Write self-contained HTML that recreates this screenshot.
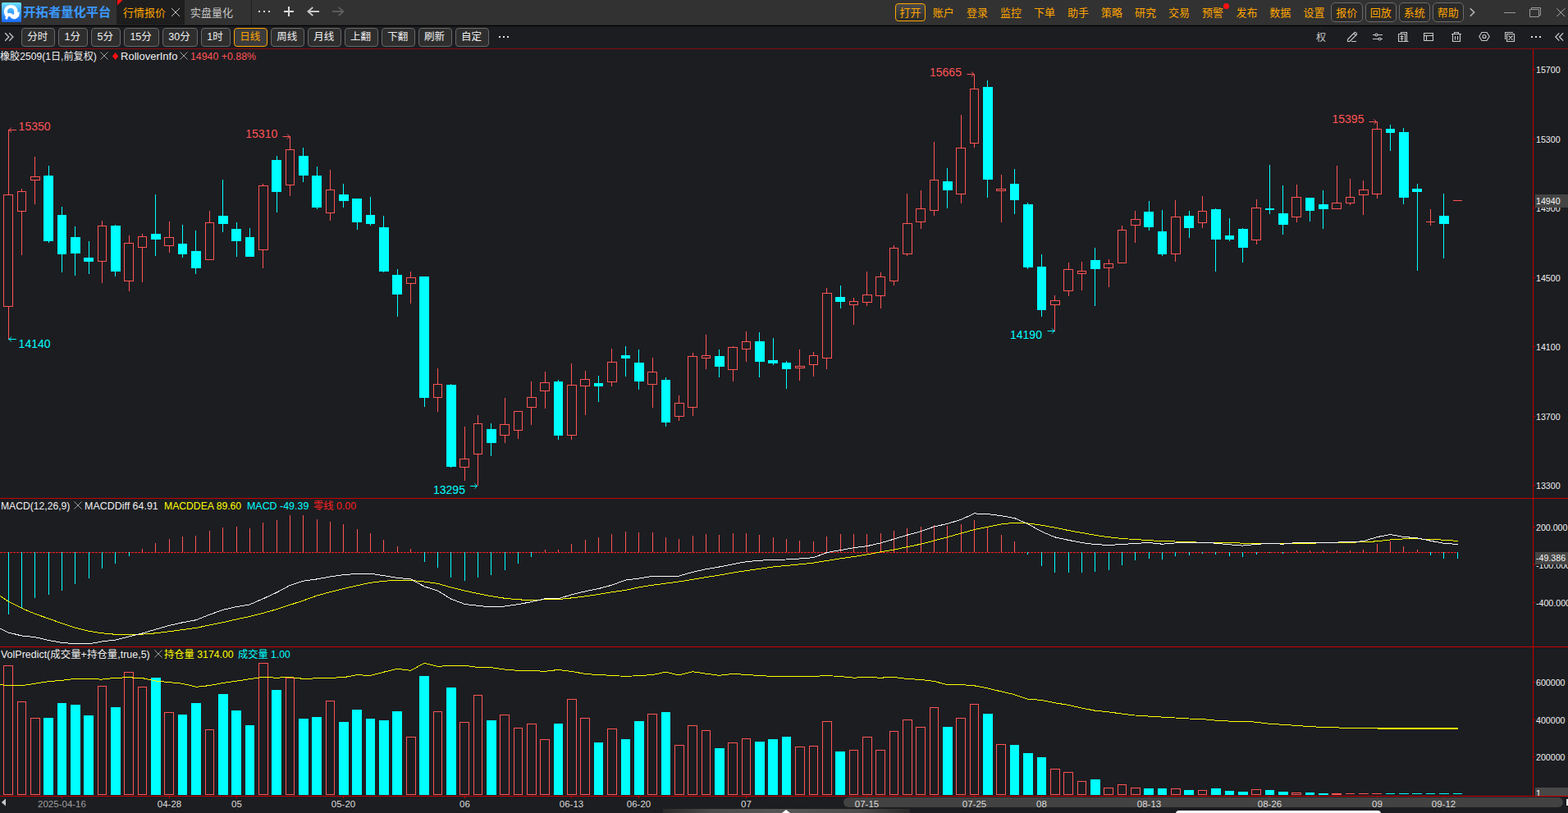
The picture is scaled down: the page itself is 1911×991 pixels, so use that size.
<!DOCTYPE html>
<html><head><meta charset="utf-8"><title>chart</title>
<style>
html,body{margin:0;padding:0;background:#1c1d21}
body{width:1911px;height:991px;position:relative;overflow:hidden;font-family:"Liberation Sans","Noto Sans CJK SC",sans-serif}
body>div,.a{position:absolute}
.t{white-space:nowrap}
.x{vertical-align:-1px}
</style></head><body>
<div style="left:0px;top:0px;width:1911px;height:30px;background:#323232"></div><div style="left:0px;top:30px;width:1911px;height:1px;background:#262626"></div><div style="left:0px;top:31px;width:1911px;height:1px;background:#000"></div><div style="left:142px;top:0px;width:83px;height:30px;background:#1e1e1e"></div><svg class="a" style="left:142.700px;top:0" width="8" height="8"><path d="M0 0H6.400L0 6.400Z" fill="#ff1010"/></svg><svg class="a" style="left:2px;top:3px" width="24" height="24" viewBox="0 0 24 24"><defs><linearGradient id="lg" x1="0" y1="0" x2="0" y2="1"><stop offset="0" stop-color="#72e2ff"/><stop offset=".45" stop-color="#3fa8ff"/><stop offset="1" stop-color="#186aff"/></linearGradient><linearGradient id="tg" x1="0" y1="0" x2="0" y2="1"><stop offset="0" stop-color="#6ccaff"/><stop offset="1" stop-color="#1c7aff"/></linearGradient></defs><rect width="24" height="24" rx="1.600" fill="url(#lg)"/><path fill="#fff" fill-rule="evenodd" d="M11.300 3C16.200 3 19.700 6.600 19.700 11c0 .5 0 .9-.1 1.300l2.300-.8-.8 5.200-1.700 1.700c-1.500 1.500-3.700 2.200-5.600 1.600-1.700-.5-2.900-1.800-4-2.900-.6-.6-1.300-.4-1.700.4L6.300 21.200 4.200 19.500 5 17.300C3.600 15.700 2.800 13.500 2.800 11 2.800 6.600 6.500 3 11.300 3zM11.100 6.700c-2.400 0-4.100 1.800-4.100 4 0 1 .3 1.900.8 2.600 1.300-.9 2.900-.7 4.200.1 1.100.7 1.900 1.300 2.800 1.400.3-.9.500-2.600.4-4.100 0-2.200-1.700-4-4.100-4z"/></svg><div class="t" style="left:28.3px;top:4px;font-size:15.3px;line-height:22px;color:#3a98ff;font-weight:bold;">开拓者量化平台</div><div class="t" style="left:150px;top:5px;font-size:13px;line-height:22px;color:#ffa500;">行情报价</div><svg class="a" style="left:208px;top:9px" width="12" height="12"><path d="M1 1L11 11M11 1L1 11" stroke="#c8c8c8" stroke-width="1" fill="none"/></svg><div class="t" style="left:232px;top:5px;font-size:13px;line-height:22px;color:#c8c8c8;">实盘量化</div><div style="left:306px;top:0px;width:1px;height:30px;background:#1e1e1e"></div><div style="left:315px;top:13px;width:2px;height:2px;background:#dcdcdc"></div><div style="left:321px;top:13px;width:2px;height:2px;background:#dcdcdc"></div><div style="left:327px;top:13px;width:2px;height:2px;background:#dcdcdc"></div><div style="left:346px;top:13px;width:12px;height:2px;background:#d8d8d8"></div><div style="left:351px;top:8px;width:2px;height:12px;background:#d8d8d8"></div><svg class="a" style="left:374px;top:8px" width="16" height="12"><path d="M1.200 6H15M7.300 1L1.400 6L7.300 11" stroke="#c8c8c8" stroke-width="1.800" fill="none"/></svg><svg class="a" style="left:404px;top:8px" width="16" height="12"><path d="M1 6H14.800M8.700 1L14.600 6L8.700 11" stroke="#5c5c5c" stroke-width="1.800" fill="none"/></svg><div style="left:1091px;top:4px;width:37px;height:22px;box-sizing:border-box;border:1.5px solid #ffa500;border-radius:4px;background:linear-gradient(#4a4a4a,#2a2a2a)"></div><div class="t" style="left:1096.5px;top:5px;font-size:13px;line-height:22px;color:#ffa500;">打开</div><div class="t" style="left:1136.7px;top:5px;font-size:13px;line-height:22px;color:#ffa500;">账户</div><div class="t" style="left:1178px;top:5px;font-size:13px;line-height:22px;color:#ffa500;">登录</div><div class="t" style="left:1219px;top:5px;font-size:13px;line-height:22px;color:#ffa500;">监控</div><div class="t" style="left:1260px;top:5px;font-size:13px;line-height:22px;color:#ffa500;">下单</div><div class="t" style="left:1301px;top:5px;font-size:13px;line-height:22px;color:#ffa500;">助手</div><div class="t" style="left:1342px;top:5px;font-size:13px;line-height:22px;color:#ffa500;">策略</div><div class="t" style="left:1383px;top:5px;font-size:13px;line-height:22px;color:#ffa500;">研究</div><div class="t" style="left:1424px;top:5px;font-size:13px;line-height:22px;color:#ffa500;">交易</div><div class="t" style="left:1465px;top:5px;font-size:13px;line-height:22px;color:#ffa500;">预警</div><div class="t" style="left:1506.5px;top:5px;font-size:13px;line-height:22px;color:#ffa500;">发布</div><div class="t" style="left:1547.3px;top:5px;font-size:13px;line-height:22px;color:#ffa500;">数据</div><div class="t" style="left:1588.5px;top:5px;font-size:13px;line-height:22px;color:#ffa500;">设置</div><div style="left:1491px;top:4px;width:7px;height:7px;border-radius:4px;background:#ff1010"></div><div style="left:1622px;top:3px;width:38.5px;height:24px;box-sizing:border-box;border:1px solid #6a6a6a;border-radius:5px;background:#2a2a2a"></div><div class="t" style="left:1628.2px;top:5px;font-size:13px;line-height:22px;color:#ffa500;">报价</div><div style="left:1663.5px;top:3px;width:38.5px;height:24px;box-sizing:border-box;border:1px solid #6a6a6a;border-radius:5px;background:#2a2a2a"></div><div class="t" style="left:1669.7px;top:5px;font-size:13px;line-height:22px;color:#ffa500;">回放</div><div style="left:1704.5px;top:3px;width:38.5px;height:24px;box-sizing:border-box;border:1px solid #6a6a6a;border-radius:5px;background:#2a2a2a"></div><div class="t" style="left:1710.7px;top:5px;font-size:13px;line-height:22px;color:#ffa500;">系统</div><div style="left:1745.5px;top:3px;width:38.5px;height:24px;box-sizing:border-box;border:1px solid #6a6a6a;border-radius:5px;background:#2a2a2a"></div><div class="t" style="left:1751.7px;top:5px;font-size:13px;line-height:22px;color:#ffa500;">帮助</div><svg class="a" style="left:1790px;top:9px" width="9" height="12"><path d="M1.800 1.200L6.600 6L1.800 10.800" stroke="#b4b4b4" stroke-width="1.600" fill="none"/></svg><div style="left:1833px;top:15px;width:14px;height:1px;background:#9a9a9a"></div><svg class="a" style="left:1864px;top:9px" width="15" height="13"><path d="M2.500 2.500V.5H13.500V9.500H11.500M.5 2.500H11.500V11.500H.5Z" stroke="#9a9a9a" stroke-width="1" fill="none"/></svg><svg class="a" style="left:1897px;top:10px" width="11" height="11"><path d="M.3.3L10.200 10.200M10.200.3L.3 10.200" stroke="#b0b0b0" stroke-width="1" fill="none"/></svg><svg class="a" style="left:5px;top:39px" width="13" height="12"><path d="M1.200 1.200L5.800 6L1.200 10.800M6.300 1.200L10.900 6L6.300 10.800" stroke="#c8c8c8" stroke-width="1.300" fill="none"/></svg><div style="left:26.3px;top:34px;width:40.5px;height:23px;box-sizing:border-box;border:1px solid #686868;border-radius:4px;background:#2e2e2e"></div><div class="t" style="left:25.5px;top:35px;width:40.5px;text-align:center;font-size:12.5px;line-height:21px;color:#f0f0f0">分时</div><div style="left:71.2px;top:34px;width:35.599999999999994px;height:23px;box-sizing:border-box;border:1px solid #686868;border-radius:4px;background:#2e2e2e"></div><div class="t" style="left:70.4px;top:35px;width:35.599999999999994px;text-align:center;font-size:12.5px;line-height:21px;color:#f0f0f0">1分</div><div style="left:111.2px;top:34px;width:35.7px;height:23px;box-sizing:border-box;border:1px solid #686868;border-radius:4px;background:#2e2e2e"></div><div class="t" style="left:110.4px;top:35px;width:35.7px;text-align:center;font-size:12.5px;line-height:21px;color:#f0f0f0">5分</div><div style="left:151px;top:34px;width:42.80000000000001px;height:23px;box-sizing:border-box;border:1px solid #686868;border-radius:4px;background:#2e2e2e"></div><div class="t" style="left:150.2px;top:35px;width:42.80000000000001px;text-align:center;font-size:12.5px;line-height:21px;color:#f0f0f0">15分</div><div style="left:198px;top:34px;width:42.69999999999999px;height:23px;box-sizing:border-box;border:1px solid #686868;border-radius:4px;background:#2e2e2e"></div><div class="t" style="left:197.2px;top:35px;width:42.69999999999999px;text-align:center;font-size:12.5px;line-height:21px;color:#f0f0f0">30分</div><div style="left:245px;top:34px;width:35.69999999999999px;height:23px;box-sizing:border-box;border:1px solid #686868;border-radius:4px;background:#2e2e2e"></div><div class="t" style="left:244.2px;top:35px;width:35.69999999999999px;text-align:center;font-size:12.5px;line-height:21px;color:#f0f0f0">1时</div><div style="left:285px;top:34px;width:41.19999999999999px;height:23px;box-sizing:border-box;border:1px solid #ffa500;border-radius:4px;background:#3c3c3c"></div><div class="t" style="left:284.2px;top:35px;width:41.19999999999999px;text-align:center;font-size:12.5px;line-height:21px;color:#ffa500">日线</div><div style="left:330.2px;top:34px;width:40.80000000000001px;height:23px;box-sizing:border-box;border:1px solid #686868;border-radius:4px;background:#2e2e2e"></div><div class="t" style="left:329.4px;top:35px;width:40.80000000000001px;text-align:center;font-size:12.5px;line-height:21px;color:#f0f0f0">周线</div><div style="left:375.1px;top:34px;width:40.799999999999955px;height:23px;box-sizing:border-box;border:1px solid #686868;border-radius:4px;background:#2e2e2e"></div><div class="t" style="left:374.3px;top:35px;width:40.799999999999955px;text-align:center;font-size:12.5px;line-height:21px;color:#f0f0f0">月线</div><div style="left:420px;top:34px;width:40.80000000000001px;height:23px;box-sizing:border-box;border:1px solid #686868;border-radius:4px;background:#2e2e2e"></div><div class="t" style="left:419.2px;top:35px;width:40.80000000000001px;text-align:center;font-size:12.5px;line-height:21px;color:#f0f0f0">上翻</div><div style="left:465.1px;top:34px;width:40.69999999999999px;height:23px;box-sizing:border-box;border:1px solid #686868;border-radius:4px;background:#2e2e2e"></div><div class="t" style="left:464.3px;top:35px;width:40.69999999999999px;text-align:center;font-size:12.5px;line-height:21px;color:#f0f0f0">下翻</div><div style="left:510px;top:34px;width:40.700000000000045px;height:23px;box-sizing:border-box;border:1px solid #686868;border-radius:4px;background:#2e2e2e"></div><div class="t" style="left:509.2px;top:35px;width:40.700000000000045px;text-align:center;font-size:12.5px;line-height:21px;color:#f0f0f0">刷新</div><div style="left:555px;top:34px;width:40.799999999999955px;height:23px;box-sizing:border-box;border:1px solid #686868;border-radius:4px;background:#2e2e2e"></div><div class="t" style="left:554.2px;top:35px;width:40.799999999999955px;text-align:center;font-size:12.5px;line-height:21px;color:#f0f0f0">自定</div><div style="left:608px;top:44px;width:2px;height:2px;background:#dcdcdc"></div><div style="left:613px;top:44px;width:2px;height:2px;background:#dcdcdc"></div><div style="left:618px;top:44px;width:2px;height:2px;background:#dcdcdc"></div><div class="t" style="left:1604px;top:37px;font-size:12px;line-height:18px;color:#c8c8c8;">权</div><svg class="a" style="left:1641px;top:38px" width="14" height="14"><path d="M1.500 12.500V10L10 1.500C10.800.7 13.300 3.200 12.500 4L4 12.500ZM8.800 2.700L11.300 5.200M6 12.500H12" stroke="#c8c8c8" stroke-width="1.150" fill="none"/></svg><svg class="a" style="left:1673px;top:38px" width="13" height="14"><path d="M0 4.500H3M6 4.500H12M0 9.500H7M10 9.500H12" stroke="#c8c8c8" stroke-width="1.150" fill="none"/><circle cx="4.500" cy="4.500" r="1.500" stroke="#c8c8c8" stroke-width="1.150" fill="none"/><circle cx="8.500" cy="9.500" r="1.500" stroke="#c8c8c8" stroke-width="1.150" fill="none"/></svg><svg class="a" style="left:1704px;top:38px" width="13" height="14"><path d="M3.500 3.500V1.500H10.500V12M.5 3.500H8.500V12.500H.5ZM2.500 6.500H6.500M2.500 9H6.500M4.500 5V11.500M8.500 12.500H12.500" stroke="#c8c8c8" stroke-width="1.150" fill="none"/></svg><svg class="a" style="left:1735px;top:40px" width="12" height="10"><path d="M.5.5H11.500V9.500H.5ZM.5 3.500H11.500M3.500 3.500V9.500" stroke="#c8c8c8" stroke-width="1.150" fill="none"/></svg><svg class="a" style="left:1769px;top:39px" width="12" height="12"><path d="M0 2.500H12M3.500 2.500V.5H8.500V2.500M1.500 2.500V11.500H10.500V2.500M4.500 5V9.500M7.500 5V9.500" stroke="#c8c8c8" stroke-width="1.150" fill="none"/></svg><svg class="a" style="left:1802px;top:39px" width="14" height="11"><path d="M.8 5.500L4 .5H10L13.200 5.500L10 10.500H4Z" stroke="#c8c8c8" stroke-width="1.150" fill="none"/><circle cx="7" cy="5.500" r="2" stroke="#c8c8c8" stroke-width="1.150" fill="none"/></svg><svg class="a" style="left:1834px;top:39px" width="13" height="12"><path d="M.5 9V.5H10M2.500 2.500H11.500V11.500H2.500ZM4.500 4.500L9.500 9.500M9.500 4.500L4.500 9.500" stroke="#c8c8c8" stroke-width="1.150" fill="none"/></svg><div style="left:1866px;top:44px;width:2px;height:2px;background:#dcdcdc"></div><div style="left:1871px;top:44px;width:2px;height:2px;background:#dcdcdc"></div><div style="left:1876px;top:44px;width:2px;height:2px;background:#dcdcdc"></div><svg class="a" style="left:1895px;top:40px" width="11" height="10"><path d="M5.300.4L.8 5L5.300 9.600M10.100.4L5.600 5L10.100 9.600" stroke="#c8c8c8" stroke-width="1.300" fill="none"/></svg><div style="left:0px;top:59px;width:1911px;height:1px;background:#880a0c"></div><div style="left:0px;top:607px;width:1911px;height:1px;background:#c80000"></div><div style="left:0px;top:788px;width:1911px;height:1px;background:#c80000"></div><div style="left:0px;top:970px;width:1911px;height:1px;background:#c80000"></div><div style="left:1868px;top:60px;width:1px;height:911px;background:#c80000"></div><div class="t" style="left:0px;top:61px;font-size:12px;line-height:17px;color:#f0f0f0;transform:scaleX(1.0095);transform-origin:0 50%">橡胶2509(1日,前复权)</div><svg class="a" style="left:121.8px;top:63.2px" width="10" height="10"><path d="M.4.4L9.600 9.600M9.600.4L.4 9.600" stroke="#a0a0a0" stroke-width="1" fill="none"/></svg><svg class="a" style="left:136.700px;top:64px" width="7.200" height="9"><path d="M3.600 0L7.200 4.500L3.600 9L0 4.500Z" fill="#ff1010"/></svg><div class="t" style="left:146.6px;top:61px;font-size:12px;line-height:17px;color:#f0f0f0;transform:scaleX(1.0839);transform-origin:0 50%">RolloverInfo</div><svg class="a" style="left:219px;top:63.2px" width="10" height="10"><path d="M.4.4L9.600 9.600M9.600.4L.4 9.600" stroke="#a0a0a0" stroke-width="1" fill="none"/></svg><div class="t" style="left:232px;top:61px;font-size:12px;line-height:17px;color:#ff5454;transform:scaleX(1.0291);transform-origin:0 50%">14940 +0.88%</div><div class="t" style="left:1px;top:609px;font-size:12px;line-height:17px;color:#f0f0f0;transform:scaleX(1.0124);transform-origin:0 50%">MACD(12,26,9)</div><svg class="a" style="left:89.6px;top:610.7px" width="10" height="10"><path d="M.4.4L9.600 9.600M9.600.4L.4 9.600" stroke="#a0a0a0" stroke-width="1" fill="none"/></svg><div class="t" style="left:102.6px;top:609px;font-size:12px;line-height:17px;color:#f0f0f0;transform:scaleX(1.0381);transform-origin:0 50%">MACDDiff 64.91</div><div class="t" style="left:199.9px;top:609px;font-size:12px;line-height:17px;color:#ffff00;transform:scaleX(1.0153);transform-origin:0 50%">MACDDEA 89.60</div><div class="t" style="left:300.8px;top:609px;font-size:12px;line-height:17px;color:#00ffff;transform:scaleX(1.0359);transform-origin:0 50%">MACD -49.39</div><div class="t" style="left:382px;top:609px;font-size:12px;line-height:17px;color:#ff2020;transform:scaleX(1.0259);transform-origin:0 50%">零线 0.00</div><div class="t" style="left:0.6px;top:790px;font-size:12px;line-height:17px;color:#f0f0f0;transform:scaleX(1.0381);transform-origin:0 50%">VolPredict(成交量+持仓量,true,5)</div><svg class="a" style="left:187.6px;top:792.2px" width="10" height="10"><path d="M.4.4L9.600 9.600M9.600.4L.4 9.600" stroke="#a0a0a0" stroke-width="1" fill="none"/></svg><div class="t" style="left:200px;top:790px;font-size:12px;line-height:17px;color:#ffff00;transform:scaleX(1.0241);transform-origin:0 50%">持仓量 3174.00</div><div class="t" style="left:290px;top:790px;font-size:12px;line-height:17px;color:#00ffff;transform:scaleX(1.0161);transform-origin:0 50%">成交量 1.00</div><svg class="a" style="left:0;top:0" width="1911" height="991" shape-rendering="crispEdges"><rect x="10" y="158" width="1" height="79" fill="#ff5454"/><rect x="4.5" y="237.5" width="11" height="136" fill="none" stroke="#ff5454"/><rect x="10" y="374" width="1" height="40" fill="#ff5454"/><rect x="26" y="230" width="1" height="3" fill="#ff5454"/><rect x="21.5" y="233.5" width="10" height="24" fill="none" stroke="#ff5454"/><rect x="26" y="258" width="1" height="53" fill="#ff5454"/><rect x="42" y="191" width="1" height="24" fill="#ff5454"/><rect x="37.5" y="215.5" width="11" height="4" fill="none" stroke="#ff5454"/><rect x="42" y="220" width="1" height="29" fill="#ff5454"/><rect x="59" y="202" width="1" height="12" fill="#00ffff"/><rect x="53" y="214" width="12" height="80" fill="#00ffff"/><rect x="59" y="294" width="1" height="2" fill="#00ffff"/><rect x="75" y="252" width="1" height="10" fill="#00ffff"/><rect x="70" y="262" width="11" height="48" fill="#00ffff"/><rect x="75" y="310" width="1" height="22" fill="#00ffff"/><rect x="91" y="276" width="1" height="13" fill="#00ffff"/><rect x="86" y="289" width="12" height="20" fill="#00ffff"/><rect x="91" y="309" width="1" height="27" fill="#00ffff"/><rect x="108" y="294" width="1" height="20" fill="#00ffff"/><rect x="102" y="314" width="12" height="5" fill="#00ffff"/><rect x="108" y="319" width="1" height="15" fill="#00ffff"/><rect x="124" y="269" width="1" height="6" fill="#ff5454"/><rect x="119.5" y="275.5" width="10" height="43" fill="none" stroke="#ff5454"/><rect x="124" y="319" width="1" height="26" fill="#ff5454"/><rect x="140" y="274" width="1" height="1" fill="#00ffff"/><rect x="135" y="275" width="12" height="56" fill="#00ffff"/><rect x="140" y="331" width="1" height="6" fill="#00ffff"/><rect x="157" y="287" width="1" height="9" fill="#ff5454"/><rect x="151.5" y="296.5" width="11" height="46" fill="none" stroke="#ff5454"/><rect x="157" y="343" width="1" height="12" fill="#ff5454"/><rect x="173" y="285" width="1" height="3" fill="#ff5454"/><rect x="168.5" y="288.5" width="10" height="13" fill="none" stroke="#ff5454"/><rect x="173" y="302" width="1" height="42" fill="#ff5454"/><rect x="189" y="237" width="1" height="48" fill="#00ffff"/><rect x="184" y="285" width="12" height="7" fill="#00ffff"/><rect x="189" y="292" width="1" height="20" fill="#00ffff"/><rect x="206" y="270" width="1" height="19" fill="#ff5454"/><rect x="200.5" y="289.5" width="11" height="10" fill="none" stroke="#ff5454"/><rect x="206" y="300" width="1" height="8" fill="#ff5454"/><rect x="222" y="274" width="1" height="23" fill="#00ffff"/><rect x="217" y="297" width="11" height="13" fill="#00ffff"/><rect x="222" y="310" width="1" height="4" fill="#00ffff"/><rect x="238" y="281" width="1" height="25" fill="#00ffff"/><rect x="233" y="306" width="12" height="21" fill="#00ffff"/><rect x="238" y="327" width="1" height="7" fill="#00ffff"/><rect x="255" y="257" width="1" height="14" fill="#ff5454"/><rect x="250.5" y="271.5" width="10" height="45" fill="none" stroke="#ff5454"/><rect x="271" y="219" width="1" height="44" fill="#00ffff"/><rect x="266" y="263" width="12" height="10" fill="#00ffff"/><rect x="271" y="273" width="1" height="10" fill="#00ffff"/><rect x="288" y="271" width="1" height="8" fill="#00ffff"/><rect x="282" y="279" width="12" height="15" fill="#00ffff"/><rect x="288" y="294" width="1" height="19" fill="#00ffff"/><rect x="304" y="278" width="1" height="11" fill="#00ffff"/><rect x="299" y="289" width="11" height="24" fill="#00ffff"/><rect x="320" y="224" width="1" height="2" fill="#ff5454"/><rect x="315.5" y="226.5" width="11" height="78" fill="none" stroke="#ff5454"/><rect x="320" y="305" width="1" height="22" fill="#ff5454"/><rect x="337" y="190" width="1" height="5" fill="#00ffff"/><rect x="331" y="195" width="12" height="39" fill="#00ffff"/><rect x="337" y="234" width="1" height="25" fill="#00ffff"/><rect x="353" y="166" width="1" height="16" fill="#ff5454"/><rect x="348.5" y="182.5" width="10" height="43" fill="none" stroke="#ff5454"/><rect x="353" y="226" width="1" height="13" fill="#ff5454"/><rect x="369" y="180" width="1" height="10" fill="#00ffff"/><rect x="364" y="190" width="12" height="24" fill="#00ffff"/><rect x="369" y="214" width="1" height="8" fill="#00ffff"/><rect x="386" y="203" width="1" height="11" fill="#00ffff"/><rect x="380" y="214" width="12" height="39" fill="#00ffff"/><rect x="386" y="253" width="1" height="2" fill="#00ffff"/><rect x="402" y="207" width="1" height="24" fill="#ff5454"/><rect x="397.5" y="231.5" width="10" height="28" fill="none" stroke="#ff5454"/><rect x="402" y="260" width="1" height="9" fill="#ff5454"/><rect x="418" y="224" width="1" height="13" fill="#00ffff"/><rect x="413" y="237" width="12" height="8" fill="#00ffff"/><rect x="418" y="245" width="1" height="8" fill="#00ffff"/><rect x="429" y="242" width="12" height="29" fill="#00ffff"/><rect x="435" y="271" width="1" height="9" fill="#00ffff"/><rect x="451" y="240" width="1" height="22" fill="#00ffff"/><rect x="446" y="262" width="11" height="11" fill="#00ffff"/><rect x="451" y="273" width="1" height="2" fill="#00ffff"/><rect x="467" y="263" width="1" height="14" fill="#00ffff"/><rect x="462" y="277" width="12" height="54" fill="#00ffff"/><rect x="467" y="331" width="1" height="1" fill="#00ffff"/><rect x="484" y="328" width="1" height="7" fill="#00ffff"/><rect x="478" y="335" width="12" height="24" fill="#00ffff"/><rect x="484" y="359" width="1" height="27" fill="#00ffff"/><rect x="500" y="331" width="1" height="7" fill="#ff5454"/><rect x="495.5" y="338.5" width="11" height="7" fill="none" stroke="#ff5454"/><rect x="500" y="346" width="1" height="24" fill="#ff5454"/><rect x="511" y="337" width="12" height="148" fill="#00ffff"/><rect x="517" y="485" width="1" height="11" fill="#00ffff"/><rect x="533" y="449" width="1" height="19" fill="#ff5454"/><rect x="528.5" y="468.5" width="10" height="16" fill="none" stroke="#ff5454"/><rect x="533" y="485" width="1" height="17" fill="#ff5454"/><rect x="549" y="468" width="1" height="1" fill="#00ffff"/><rect x="544" y="469" width="12" height="100" fill="#00ffff"/><rect x="549" y="569" width="1" height="1" fill="#00ffff"/><rect x="566" y="520" width="1" height="39" fill="#ff5454"/><rect x="560.5" y="559.5" width="11" height="10" fill="none" stroke="#ff5454"/><rect x="566" y="570" width="1" height="16" fill="#ff5454"/><rect x="582" y="506" width="1" height="10" fill="#ff5454"/><rect x="577.5" y="516.5" width="10" height="37" fill="none" stroke="#ff5454"/><rect x="582" y="554" width="1" height="38" fill="#ff5454"/><rect x="598" y="516" width="1" height="7" fill="#00ffff"/><rect x="593" y="523" width="12" height="17" fill="#00ffff"/><rect x="598" y="540" width="1" height="16" fill="#00ffff"/><rect x="615" y="485" width="1" height="32" fill="#ff5454"/><rect x="609.5" y="517.5" width="11" height="13" fill="none" stroke="#ff5454"/><rect x="615" y="531" width="1" height="9" fill="#ff5454"/><rect x="626.5" y="501.5" width="10" height="23" fill="none" stroke="#ff5454"/><rect x="631" y="525" width="1" height="10" fill="#ff5454"/><rect x="647" y="465" width="1" height="19" fill="#ff5454"/><rect x="642.5" y="484.5" width="11" height="12" fill="none" stroke="#ff5454"/><rect x="647" y="497" width="1" height="21" fill="#ff5454"/><rect x="664" y="453" width="1" height="13" fill="#ff5454"/><rect x="658.5" y="466.5" width="11" height="10" fill="none" stroke="#ff5454"/><rect x="664" y="477" width="1" height="21" fill="#ff5454"/><rect x="680" y="463" width="1" height="2" fill="#00ffff"/><rect x="675" y="465" width="11" height="66" fill="#00ffff"/><rect x="680" y="531" width="1" height="5" fill="#00ffff"/><rect x="696" y="443" width="1" height="26" fill="#ff5454"/><rect x="691.5" y="469.5" width="11" height="61" fill="none" stroke="#ff5454"/><rect x="696" y="531" width="1" height="5" fill="#ff5454"/><rect x="713" y="452" width="1" height="10" fill="#ff5454"/><rect x="707.5" y="462.5" width="11" height="8" fill="none" stroke="#ff5454"/><rect x="713" y="471" width="1" height="35" fill="#ff5454"/><rect x="729" y="458" width="1" height="9" fill="#00ffff"/><rect x="724" y="467" width="11" height="4" fill="#00ffff"/><rect x="729" y="471" width="1" height="19" fill="#00ffff"/><rect x="745" y="425" width="1" height="16" fill="#ff5454"/><rect x="740.5" y="441.5" width="11" height="24" fill="none" stroke="#ff5454"/><rect x="745" y="466" width="1" height="5" fill="#ff5454"/><rect x="762" y="422" width="1" height="11" fill="#00ffff"/><rect x="757" y="433" width="11" height="4" fill="#00ffff"/><rect x="762" y="437" width="1" height="22" fill="#00ffff"/><rect x="778" y="426" width="1" height="16" fill="#00ffff"/><rect x="773" y="442" width="12" height="23" fill="#00ffff"/><rect x="778" y="465" width="1" height="10" fill="#00ffff"/><rect x="795" y="436" width="1" height="17" fill="#ff5454"/><rect x="789.5" y="453.5" width="11" height="15" fill="none" stroke="#ff5454"/><rect x="795" y="469" width="1" height="28" fill="#ff5454"/><rect x="811" y="460" width="1" height="3" fill="#00ffff"/><rect x="806" y="463" width="11" height="52" fill="#00ffff"/><rect x="811" y="515" width="1" height="5" fill="#00ffff"/><rect x="827" y="482" width="1" height="9" fill="#ff5454"/><rect x="822.5" y="491.5" width="11" height="16" fill="none" stroke="#ff5454"/><rect x="827" y="508" width="1" height="5" fill="#ff5454"/><rect x="844" y="430" width="1" height="4" fill="#ff5454"/><rect x="838.5" y="434.5" width="11" height="62" fill="none" stroke="#ff5454"/><rect x="844" y="497" width="1" height="10" fill="#ff5454"/><rect x="860" y="408" width="1" height="25" fill="#ff5454"/><rect x="855.5" y="433.5" width="10" height="3" fill="none" stroke="#ff5454"/><rect x="860" y="437" width="1" height="13" fill="#ff5454"/><rect x="876" y="426" width="1" height="8" fill="#00ffff"/><rect x="871" y="434" width="12" height="13" fill="#00ffff"/><rect x="876" y="447" width="1" height="13" fill="#00ffff"/><rect x="893" y="422" width="1" height="1" fill="#ff5454"/><rect x="887.5" y="423.5" width="11" height="27" fill="none" stroke="#ff5454"/><rect x="893" y="451" width="1" height="14" fill="#ff5454"/><rect x="909" y="404" width="1" height="12" fill="#ff5454"/><rect x="904.5" y="416.5" width="10" height="9" fill="none" stroke="#ff5454"/><rect x="909" y="426" width="1" height="15" fill="#ff5454"/><rect x="925" y="405" width="1" height="11" fill="#00ffff"/><rect x="920" y="416" width="12" height="25" fill="#00ffff"/><rect x="925" y="441" width="1" height="19" fill="#00ffff"/><rect x="942" y="412" width="1" height="27" fill="#00ffff"/><rect x="936" y="439" width="12" height="4" fill="#00ffff"/><rect x="942" y="443" width="1" height="2" fill="#00ffff"/><rect x="958" y="440" width="1" height="2" fill="#00ffff"/><rect x="953" y="442" width="11" height="8" fill="#00ffff"/><rect x="958" y="450" width="1" height="24" fill="#00ffff"/><rect x="974" y="426" width="1" height="20" fill="#ff5454"/><rect x="969.5" y="446.5" width="11" height="2" fill="none" stroke="#ff5454"/><rect x="974" y="449" width="1" height="15" fill="#ff5454"/><rect x="991" y="429" width="1" height="4" fill="#ff5454"/><rect x="986.5" y="433.5" width="10" height="11" fill="none" stroke="#ff5454"/><rect x="991" y="445" width="1" height="14" fill="#ff5454"/><rect x="1007" y="351" width="1" height="6" fill="#ff5454"/><rect x="1002.5" y="357.5" width="11" height="79" fill="none" stroke="#ff5454"/><rect x="1007" y="437" width="1" height="13" fill="#ff5454"/><rect x="1024" y="348" width="1" height="14" fill="#00ffff"/><rect x="1018" y="362" width="12" height="6" fill="#00ffff"/><rect x="1024" y="368" width="1" height="8" fill="#00ffff"/><rect x="1040" y="363" width="1" height="4" fill="#ff5454"/><rect x="1035.5" y="367.5" width="10" height="4" fill="none" stroke="#ff5454"/><rect x="1040" y="372" width="1" height="24" fill="#ff5454"/><rect x="1056" y="331" width="1" height="28" fill="#ff5454"/><rect x="1051.5" y="359.5" width="11" height="9" fill="none" stroke="#ff5454"/><rect x="1056" y="369" width="1" height="4" fill="#ff5454"/><rect x="1073" y="332" width="1" height="5" fill="#ff5454"/><rect x="1067.5" y="337.5" width="11" height="23" fill="none" stroke="#ff5454"/><rect x="1073" y="361" width="1" height="15" fill="#ff5454"/><rect x="1089" y="299" width="1" height="3" fill="#ff5454"/><rect x="1084.5" y="302.5" width="10" height="40" fill="none" stroke="#ff5454"/><rect x="1089" y="343" width="1" height="5" fill="#ff5454"/><rect x="1105" y="236" width="1" height="36" fill="#ff5454"/><rect x="1100.5" y="272.5" width="11" height="37" fill="none" stroke="#ff5454"/><rect x="1105" y="310" width="1" height="2" fill="#ff5454"/><rect x="1122" y="232" width="1" height="22" fill="#ff5454"/><rect x="1116.5" y="254.5" width="11" height="16" fill="none" stroke="#ff5454"/><rect x="1122" y="271" width="1" height="8" fill="#ff5454"/><rect x="1138" y="173" width="1" height="46" fill="#ff5454"/><rect x="1133.5" y="219.5" width="10" height="37" fill="none" stroke="#ff5454"/><rect x="1138" y="257" width="1" height="6" fill="#ff5454"/><rect x="1154" y="205" width="1" height="16" fill="#00ffff"/><rect x="1149" y="221" width="12" height="11" fill="#00ffff"/><rect x="1154" y="232" width="1" height="22" fill="#00ffff"/><rect x="1171" y="140" width="1" height="40" fill="#ff5454"/><rect x="1165.5" y="180.5" width="11" height="56" fill="none" stroke="#ff5454"/><rect x="1171" y="237" width="1" height="11" fill="#ff5454"/><rect x="1187" y="91" width="1" height="17" fill="#ff5454"/><rect x="1182.5" y="108.5" width="10" height="66" fill="none" stroke="#ff5454"/><rect x="1187" y="175" width="1" height="5" fill="#ff5454"/><rect x="1203" y="98" width="1" height="8" fill="#00ffff"/><rect x="1198" y="106" width="12" height="113" fill="#00ffff"/><rect x="1203" y="219" width="1" height="22" fill="#00ffff"/><rect x="1220" y="213" width="1" height="17" fill="#ff5454"/><rect x="1214.5" y="230.5" width="11" height="2" fill="none" stroke="#ff5454"/><rect x="1220" y="233" width="1" height="38" fill="#ff5454"/><rect x="1236" y="206" width="1" height="18" fill="#00ffff"/><rect x="1231" y="224" width="11" height="20" fill="#00ffff"/><rect x="1236" y="244" width="1" height="17" fill="#00ffff"/><rect x="1252" y="247" width="1" height="2" fill="#00ffff"/><rect x="1247" y="249" width="12" height="77" fill="#00ffff"/><rect x="1252" y="326" width="1" height="2" fill="#00ffff"/><rect x="1269" y="310" width="1" height="15" fill="#00ffff"/><rect x="1264" y="325" width="11" height="53" fill="#00ffff"/><rect x="1269" y="378" width="1" height="8" fill="#00ffff"/><rect x="1285" y="360" width="1" height="6" fill="#ff5454"/><rect x="1280.5" y="366.5" width="11" height="5" fill="none" stroke="#ff5454"/><rect x="1285" y="372" width="1" height="32" fill="#ff5454"/><rect x="1302" y="320" width="1" height="8" fill="#ff5454"/><rect x="1296.5" y="328.5" width="11" height="26" fill="none" stroke="#ff5454"/><rect x="1302" y="355" width="1" height="6" fill="#ff5454"/><rect x="1318" y="319" width="1" height="11" fill="#ff5454"/><rect x="1313.5" y="330.5" width="10" height="3" fill="none" stroke="#ff5454"/><rect x="1318" y="334" width="1" height="20" fill="#ff5454"/><rect x="1334" y="302" width="1" height="15" fill="#00ffff"/><rect x="1329" y="317" width="12" height="11" fill="#00ffff"/><rect x="1334" y="328" width="1" height="45" fill="#00ffff"/><rect x="1351" y="316" width="1" height="5" fill="#ff5454"/><rect x="1345.5" y="321.5" width="11" height="5" fill="none" stroke="#ff5454"/><rect x="1351" y="327" width="1" height="23" fill="#ff5454"/><rect x="1367" y="275" width="1" height="5" fill="#ff5454"/><rect x="1362.5" y="280.5" width="10" height="40" fill="none" stroke="#ff5454"/><rect x="1383" y="257" width="1" height="10" fill="#ff5454"/><rect x="1378.5" y="267.5" width="11" height="7" fill="none" stroke="#ff5454"/><rect x="1383" y="275" width="1" height="21" fill="#ff5454"/><rect x="1400" y="245" width="1" height="13" fill="#00ffff"/><rect x="1394" y="258" width="12" height="19" fill="#00ffff"/><rect x="1400" y="277" width="1" height="4" fill="#00ffff"/><rect x="1416" y="256" width="1" height="26" fill="#00ffff"/><rect x="1411" y="282" width="11" height="28" fill="#00ffff"/><rect x="1416" y="310" width="1" height="2" fill="#00ffff"/><rect x="1432" y="244" width="1" height="20" fill="#ff5454"/><rect x="1427.5" y="264.5" width="11" height="45" fill="none" stroke="#ff5454"/><rect x="1432" y="310" width="1" height="9" fill="#ff5454"/><rect x="1449" y="257" width="1" height="6" fill="#00ffff"/><rect x="1443" y="263" width="12" height="15" fill="#00ffff"/><rect x="1449" y="278" width="1" height="12" fill="#00ffff"/><rect x="1465" y="239" width="1" height="18" fill="#ff5454"/><rect x="1460.5" y="257.5" width="10" height="14" fill="none" stroke="#ff5454"/><rect x="1465" y="272" width="1" height="6" fill="#ff5454"/><rect x="1481" y="254" width="1" height="1" fill="#00ffff"/><rect x="1476" y="255" width="12" height="37" fill="#00ffff"/><rect x="1481" y="292" width="1" height="39" fill="#00ffff"/><rect x="1498" y="266" width="1" height="21" fill="#00ffff"/><rect x="1493" y="287" width="11" height="5" fill="#00ffff"/><rect x="1498" y="292" width="1" height="2" fill="#00ffff"/><rect x="1514" y="278" width="1" height="1" fill="#00ffff"/><rect x="1509" y="279" width="12" height="23" fill="#00ffff"/><rect x="1514" y="302" width="1" height="18" fill="#00ffff"/><rect x="1531" y="243" width="1" height="10" fill="#ff5454"/><rect x="1525.5" y="253.5" width="11" height="39" fill="none" stroke="#ff5454"/><rect x="1531" y="293" width="1" height="5" fill="#ff5454"/><rect x="1547" y="201" width="1" height="53" fill="#00ffff"/><rect x="1542" y="254" width="11" height="2" fill="#00ffff"/><rect x="1547" y="256" width="1" height="5" fill="#00ffff"/><rect x="1563" y="226" width="1" height="34" fill="#00ffff"/><rect x="1558" y="260" width="12" height="14" fill="#00ffff"/><rect x="1563" y="274" width="1" height="12" fill="#00ffff"/><rect x="1580" y="225" width="1" height="15" fill="#ff5454"/><rect x="1574.5" y="240.5" width="11" height="24" fill="none" stroke="#ff5454"/><rect x="1580" y="265" width="1" height="6" fill="#ff5454"/><rect x="1591" y="241" width="11" height="16" fill="#00ffff"/><rect x="1596" y="257" width="1" height="13" fill="#00ffff"/><rect x="1612" y="232" width="1" height="17" fill="#00ffff"/><rect x="1607" y="249" width="12" height="6" fill="#00ffff"/><rect x="1612" y="255" width="1" height="24" fill="#00ffff"/><rect x="1629" y="202" width="1" height="45" fill="#ff5454"/><rect x="1623.5" y="247.5" width="11" height="7" fill="none" stroke="#ff5454"/><rect x="1645" y="218" width="1" height="22" fill="#ff5454"/><rect x="1640.5" y="240.5" width="10" height="7" fill="none" stroke="#ff5454"/><rect x="1645" y="248" width="1" height="2" fill="#ff5454"/><rect x="1661" y="220" width="1" height="11" fill="#ff5454"/><rect x="1656.5" y="231.5" width="11" height="6" fill="none" stroke="#ff5454"/><rect x="1661" y="238" width="1" height="24" fill="#ff5454"/><rect x="1678" y="148" width="1" height="9" fill="#ff5454"/><rect x="1672.5" y="157.5" width="11" height="79" fill="none" stroke="#ff5454"/><rect x="1678" y="237" width="1" height="5" fill="#ff5454"/><rect x="1694" y="152" width="1" height="5" fill="#00ffff"/><rect x="1689" y="157" width="11" height="5" fill="#00ffff"/><rect x="1694" y="162" width="1" height="22" fill="#00ffff"/><rect x="1710" y="156" width="1" height="5" fill="#00ffff"/><rect x="1705" y="161" width="12" height="80" fill="#00ffff"/><rect x="1710" y="241" width="1" height="8" fill="#00ffff"/><rect x="1727" y="224" width="1" height="6" fill="#00ffff"/><rect x="1721" y="230" width="12" height="4" fill="#00ffff"/><rect x="1727" y="234" width="1" height="96" fill="#00ffff"/><rect x="1743" y="255" width="1" height="15" fill="#ff5454"/><rect x="1738" y="270" width="11" height="1" fill="#ff5454"/><rect x="1743" y="271" width="1" height="4" fill="#ff5454"/><rect x="1759" y="236" width="1" height="27" fill="#00ffff"/><rect x="1754" y="263" width="12" height="10" fill="#00ffff"/><rect x="1759" y="273" width="1" height="42" fill="#00ffff"/><rect x="1771" y="244" width="11" height="1" fill="#ff5454"/><path d="M0 673.5H1777" stroke="#ff2020" stroke-width="1" stroke-dasharray="3 1" fill="none"/><rect x="10" y="673" width="1" height="76" fill="#00ffff"/><rect x="26" y="673" width="1" height="68" fill="#00ffff"/><rect x="42" y="673" width="1" height="56" fill="#00ffff"/><rect x="59" y="673" width="1" height="52" fill="#00ffff"/><rect x="75" y="673" width="1" height="47" fill="#00ffff"/><rect x="91" y="673" width="1" height="39" fill="#00ffff"/><rect x="108" y="673" width="1" height="32" fill="#00ffff"/><rect x="124" y="673" width="1" height="20" fill="#00ffff"/><rect x="140" y="673" width="1" height="14" fill="#00ffff"/><rect x="157" y="673" width="1" height="5" fill="#00ffff"/><rect x="173" y="669" width="1" height="4" fill="#ff5454"/><rect x="189" y="662" width="1" height="11" fill="#ff5454"/><rect x="206" y="657" width="1" height="16" fill="#ff5454"/><rect x="222" y="654" width="1" height="19" fill="#ff5454"/><rect x="238" y="653" width="1" height="20" fill="#ff5454"/><rect x="255" y="647" width="1" height="26" fill="#ff5454"/><rect x="271" y="643" width="1" height="30" fill="#ff5454"/><rect x="288" y="642" width="1" height="31" fill="#ff5454"/><rect x="304" y="644" width="1" height="29" fill="#ff5454"/><rect x="320" y="637" width="1" height="36" fill="#ff5454"/><rect x="337" y="634" width="1" height="39" fill="#ff5454"/><rect x="353" y="628" width="1" height="45" fill="#ff5454"/><rect x="369" y="628" width="1" height="45" fill="#ff5454"/><rect x="386" y="633" width="1" height="40" fill="#ff5454"/><rect x="402" y="636" width="1" height="37" fill="#ff5454"/><rect x="418" y="639" width="1" height="34" fill="#ff5454"/><rect x="435" y="645" width="1" height="28" fill="#ff5454"/><rect x="451" y="650" width="1" height="23" fill="#ff5454"/><rect x="467" y="658" width="1" height="15" fill="#ff5454"/><rect x="484" y="666" width="1" height="7" fill="#ff5454"/><rect x="500" y="669" width="1" height="4" fill="#ff5454"/><rect x="517" y="673" width="1" height="12" fill="#00ffff"/><rect x="533" y="673" width="1" height="19" fill="#00ffff"/><rect x="549" y="673" width="1" height="31" fill="#00ffff"/><rect x="566" y="673" width="1" height="35" fill="#00ffff"/><rect x="582" y="673" width="1" height="31" fill="#00ffff"/><rect x="598" y="673" width="1" height="28" fill="#00ffff"/><rect x="615" y="673" width="1" height="22" fill="#00ffff"/><rect x="631" y="673" width="1" height="14" fill="#00ffff"/><rect x="647" y="673" width="1" height="6" fill="#00ffff"/><rect x="664" y="670" width="1" height="3" fill="#ff5454"/><rect x="680" y="670" width="1" height="3" fill="#ff5454"/><rect x="696" y="663" width="1" height="10" fill="#ff5454"/><rect x="713" y="658" width="1" height="15" fill="#ff5454"/><rect x="729" y="655" width="1" height="18" fill="#ff5454"/><rect x="745" y="651" width="1" height="22" fill="#ff5454"/><rect x="762" y="648" width="1" height="25" fill="#ff5454"/><rect x="778" y="649" width="1" height="24" fill="#ff5454"/><rect x="795" y="649" width="1" height="24" fill="#ff5454"/><rect x="811" y="655" width="1" height="18" fill="#ff5454"/><rect x="827" y="657" width="1" height="16" fill="#ff5454"/><rect x="844" y="653" width="1" height="20" fill="#ff5454"/><rect x="860" y="651" width="1" height="22" fill="#ff5454"/><rect x="876" y="652" width="1" height="21" fill="#ff5454"/><rect x="893" y="650" width="1" height="23" fill="#ff5454"/><rect x="909" y="650" width="1" height="23" fill="#ff5454"/><rect x="925" y="652" width="1" height="21" fill="#ff5454"/><rect x="942" y="655" width="1" height="18" fill="#ff5454"/><rect x="958" y="657" width="1" height="16" fill="#ff5454"/><rect x="974" y="659" width="1" height="14" fill="#ff5454"/><rect x="991" y="660" width="1" height="13" fill="#ff5454"/><rect x="1007" y="654" width="1" height="19" fill="#ff5454"/><rect x="1024" y="651" width="1" height="22" fill="#ff5454"/><rect x="1040" y="651" width="1" height="22" fill="#ff5454"/><rect x="1056" y="651" width="1" height="22" fill="#ff5454"/><rect x="1073" y="650" width="1" height="23" fill="#ff5454"/><rect x="1089" y="647" width="1" height="26" fill="#ff5454"/><rect x="1105" y="644" width="1" height="29" fill="#ff5454"/><rect x="1122" y="642" width="1" height="31" fill="#ff5454"/><rect x="1138" y="640" width="1" height="33" fill="#ff5454"/><rect x="1154" y="641" width="1" height="32" fill="#ff5454"/><rect x="1171" y="639" width="1" height="34" fill="#ff5454"/><rect x="1187" y="634" width="1" height="39" fill="#ff5454"/><rect x="1203" y="643" width="1" height="30" fill="#ff5454"/><rect x="1220" y="652" width="1" height="21" fill="#ff5454"/><rect x="1236" y="660" width="1" height="13" fill="#ff5454"/><rect x="1252" y="673" width="1" height="3" fill="#00ffff"/><rect x="1269" y="673" width="1" height="17" fill="#00ffff"/><rect x="1285" y="673" width="1" height="25" fill="#00ffff"/><rect x="1302" y="673" width="1" height="25" fill="#00ffff"/><rect x="1318" y="673" width="1" height="25" fill="#00ffff"/><rect x="1334" y="673" width="1" height="24" fill="#00ffff"/><rect x="1351" y="673" width="1" height="22" fill="#00ffff"/><rect x="1367" y="673" width="1" height="16" fill="#00ffff"/><rect x="1383" y="673" width="1" height="10" fill="#00ffff"/><rect x="1400" y="673" width="1" height="8" fill="#00ffff"/><rect x="1416" y="673" width="1" height="9" fill="#00ffff"/><rect x="1432" y="673" width="1" height="5" fill="#00ffff"/><rect x="1449" y="673" width="1" height="4" fill="#00ffff"/><rect x="1465" y="673" width="1" height="2" fill="#00ffff"/><rect x="1481" y="673" width="1" height="3" fill="#00ffff"/><rect x="1498" y="673" width="1" height="5" fill="#00ffff"/><rect x="1514" y="673" width="1" height="6" fill="#00ffff"/><rect x="1531" y="673" width="1" height="3" fill="#00ffff"/><rect x="1547" y="673" width="1" height="1" fill="#00ffff"/><rect x="1563" y="673" width="1" height="2" fill="#00ffff"/><rect x="1580" y="671" width="1" height="2" fill="#ff5454"/><rect x="1596" y="671" width="1" height="2" fill="#ff5454"/><rect x="1612" y="671" width="1" height="2" fill="#ff5454"/><rect x="1629" y="671" width="1" height="2" fill="#ff5454"/><rect x="1645" y="671" width="1" height="2" fill="#ff5454"/><rect x="1661" y="670" width="1" height="3" fill="#ff5454"/><rect x="1678" y="663" width="1" height="10" fill="#ff5454"/><rect x="1694" y="660" width="1" height="13" fill="#ff5454"/><rect x="1710" y="666" width="1" height="7" fill="#ff5454"/><rect x="1727" y="670" width="1" height="3" fill="#ff5454"/><rect x="1743" y="673" width="1" height="4" fill="#00ffff"/><rect x="1759" y="673" width="1" height="8" fill="#00ffff"/><rect x="1776" y="673" width="1" height="8" fill="#00ffff"/><path d="M0.0 726.4 L10.3 733.1 L26.6 741.5 L42.5 748.2 L59.2 754.0 L75.4 759.9 L91.5 765.1 L108.2 769.3 L124.5 771.8 L140.7 773.3 L157.4 773.7 L173.5 773.1 L190.1 771.8 L206.4 769.7 L222.5 767.6 L239.2 765.3 L255.4 762.0 L271.5 758.8 L288.2 754.9 L304.3 751.5 L320.7 747.3 L337.2 742.7 L353.5 737.3 L369.6 732.1 L386.3 726.0 L402.4 721.6 L418.5 717.6 L435.0 713.8 L451.4 710.3 L468.1 708.2 L484.4 707.4 L500.6 707.4 L517.1 709.0 L533.4 711.3 L549.5 715.9 L566.3 720.1 L582.4 723.5 L598.5 726.6 L615.3 729.3 L631.4 730.8 L647.5 731.6 L664.2 730.8 L680.4 730.6 L696.5 728.9 L713.4 726.8 L729.3 724.5 L745.5 721.8 L762.5 719.3 L778.6 715.9 L795.4 713.2 L811.5 711.1 L827.4 709.0 L844.4 706.3 L860.5 703.6 L876.6 701.1 L893.3 698.1 L909.5 695.6 L925.6 693.3 L942.3 691.0 L958.4 689.4 L974.5 687.9 L991.3 686.2 L1007.4 683.5 L1023.5 681.0 L1040.5 678.5 L1056.4 676.0 L1072.5 673.0 L1089.5 670.1 L1105.4 666.7 L1122.5 663.2 L1138.4 659.0 L1154.4 654.8 L1171.4 650.0 L1187.5 645.6 L1203.6 642.3 L1220.4 638.9 L1236.5 637.2 L1252.4 637.9 L1269.4 640.2 L1285.5 643.1 L1301.4 646.4 L1318.3 649.4 L1334.5 652.3 L1350.6 654.6 L1367.5 656.5 L1383.4 657.5 L1400.4 658.6 L1416.3 659.8 L1432.4 660.0 L1449.4 660.9 L1465.5 661.1 L1481.4 661.3 L1498.3 661.7 L1514.4 662.1 L1530.6 662.6 L1547.5 662.4 L1563.4 662.1 L1579.5 662.1 L1596.3 662.1 L1612.4 661.9 L1628.5 661.5 L1645.3 661.1 L1661.4 660.9 L1677.5 659.8 L1694.5 658.0 L1710.6 656.9 L1727.5 656.9 L1743.4 657.3 L1759.8 658.2 L1776.7 659.4" stroke="#ffff00" stroke-width="1" fill="none" shape-rendering="crispEdges" stroke-linejoin="round"/><path d="M0.0 766.2 L10.3 771.0 L26.6 775.0 L42.5 776.6 L59.2 780.4 L75.4 783.5 L91.5 784.6 L108.2 785.0 L124.5 781.9 L140.7 780.0 L157.4 775.8 L173.5 772.0 L190.1 767.0 L206.4 762.4 L222.5 758.8 L239.2 755.7 L255.4 749.2 L271.5 743.4 L288.2 739.6 L304.3 736.9 L320.7 729.8 L337.2 722.2 L353.5 713.4 L369.6 708.2 L386.3 705.9 L402.4 703.0 L418.5 700.7 L435.0 699.4 L451.4 699.2 L468.1 701.7 L484.4 704.4 L500.6 705.9 L517.1 714.9 L533.4 720.1 L549.5 730.0 L566.3 736.4 L582.4 738.3 L598.5 740.0 L615.3 739.0 L631.4 736.7 L647.5 733.7 L664.2 729.8 L680.4 729.8 L696.5 724.9 L713.4 720.8 L729.3 717.6 L745.5 713.2 L762.5 707.1 L778.6 705.1 L795.4 702.3 L811.5 702.7 L827.4 702.1 L844.4 697.3 L860.5 693.7 L876.6 691.0 L893.3 687.7 L909.5 684.7 L925.6 683.3 L942.3 682.2 L958.4 682.0 L974.5 681.0 L991.3 679.7 L1007.4 673.7 L1023.5 670.7 L1040.5 667.8 L1056.4 665.7 L1072.5 662.1 L1089.5 657.1 L1105.4 652.3 L1122.5 647.7 L1138.4 642.0 L1154.4 638.5 L1171.4 633.3 L1187.5 625.9 L1203.6 626.6 L1220.4 628.7 L1236.5 631.6 L1252.4 638.5 L1269.4 647.9 L1285.5 654.8 L1301.4 658.2 L1318.3 661.5 L1334.5 663.6 L1350.6 664.4 L1367.5 663.6 L1383.4 662.4 L1400.4 661.5 L1416.3 663.2 L1432.4 661.9 L1449.4 661.9 L1465.5 661.3 L1481.4 662.1 L1498.3 663.8 L1514.4 665.1 L1530.6 663.4 L1547.5 662.4 L1563.4 663.2 L1579.5 661.5 L1596.3 661.5 L1612.4 661.5 L1628.5 661.1 L1645.3 660.5 L1661.4 659.8 L1677.5 654.8 L1694.5 651.5 L1710.6 654.4 L1727.5 655.9 L1743.4 659.2 L1759.8 662.4 L1776.7 663.4" stroke="#ffffff" stroke-width="1" fill="none" shape-rendering="crispEdges" stroke-linejoin="round"/><rect x="4.5" y="811.5" width="11" height="157" fill="none" stroke="#ff5454"/><rect x="21.5" y="855.5" width="10" height="113" fill="none" stroke="#ff5454"/><rect x="37.5" y="875.5" width="11" height="93" fill="none" stroke="#ff5454"/><rect x="53" y="875" width="12" height="94" fill="#00ffff"/><rect x="70" y="857" width="11" height="112" fill="#00ffff"/><rect x="86" y="859" width="12" height="110" fill="#00ffff"/><rect x="102" y="872" width="12" height="97" fill="#00ffff"/><rect x="119.5" y="836.5" width="10" height="132" fill="none" stroke="#ff5454"/><rect x="135" y="862" width="12" height="107" fill="#00ffff"/><rect x="151.5" y="819.5" width="11" height="149" fill="none" stroke="#ff5454"/><rect x="168.5" y="837.5" width="10" height="131" fill="none" stroke="#ff5454"/><rect x="184" y="826" width="12" height="143" fill="#00ffff"/><rect x="200.5" y="868.5" width="11" height="100" fill="none" stroke="#ff5454"/><rect x="217" y="871" width="11" height="98" fill="#00ffff"/><rect x="233" y="857" width="12" height="112" fill="#00ffff"/><rect x="250.5" y="889.5" width="10" height="79" fill="none" stroke="#ff5454"/><rect x="266" y="846" width="12" height="123" fill="#00ffff"/><rect x="282" y="866" width="12" height="103" fill="#00ffff"/><rect x="299" y="884" width="11" height="85" fill="#00ffff"/><rect x="315.5" y="808.5" width="11" height="160" fill="none" stroke="#ff5454"/><rect x="331" y="841" width="12" height="128" fill="#00ffff"/><rect x="348.5" y="826.5" width="10" height="142" fill="none" stroke="#ff5454"/><rect x="364" y="876" width="12" height="93" fill="#00ffff"/><rect x="380" y="874" width="12" height="95" fill="#00ffff"/><rect x="397.5" y="854.5" width="10" height="114" fill="none" stroke="#ff5454"/><rect x="413" y="880" width="12" height="89" fill="#00ffff"/><rect x="429" y="865" width="12" height="104" fill="#00ffff"/><rect x="446" y="876" width="11" height="93" fill="#00ffff"/><rect x="462" y="878" width="12" height="91" fill="#00ffff"/><rect x="478" y="867" width="12" height="102" fill="#00ffff"/><rect x="495.5" y="898.5" width="11" height="70" fill="none" stroke="#ff5454"/><rect x="511" y="824" width="12" height="145" fill="#00ffff"/><rect x="528.5" y="867.5" width="10" height="101" fill="none" stroke="#ff5454"/><rect x="544" y="838" width="12" height="131" fill="#00ffff"/><rect x="560.5" y="880.5" width="11" height="88" fill="none" stroke="#ff5454"/><rect x="577.5" y="847.5" width="10" height="121" fill="none" stroke="#ff5454"/><rect x="593" y="878" width="12" height="91" fill="#00ffff"/><rect x="609.5" y="871.5" width="11" height="97" fill="none" stroke="#ff5454"/><rect x="626.5" y="887.5" width="10" height="81" fill="none" stroke="#ff5454"/><rect x="642.5" y="882.5" width="11" height="86" fill="none" stroke="#ff5454"/><rect x="658.5" y="901.5" width="11" height="67" fill="none" stroke="#ff5454"/><rect x="675" y="882" width="11" height="87" fill="#00ffff"/><rect x="691.5" y="852.5" width="11" height="116" fill="none" stroke="#ff5454"/><rect x="707.5" y="875.5" width="11" height="93" fill="none" stroke="#ff5454"/><rect x="724" y="905" width="11" height="64" fill="#00ffff"/><rect x="740.5" y="888.5" width="11" height="80" fill="none" stroke="#ff5454"/><rect x="757" y="901" width="11" height="68" fill="#00ffff"/><rect x="773" y="879" width="12" height="90" fill="#00ffff"/><rect x="789.5" y="870.5" width="11" height="98" fill="none" stroke="#ff5454"/><rect x="806" y="868" width="11" height="101" fill="#00ffff"/><rect x="822.5" y="908.5" width="11" height="60" fill="none" stroke="#ff5454"/><rect x="838.5" y="884.5" width="11" height="84" fill="none" stroke="#ff5454"/><rect x="855.5" y="890.5" width="10" height="78" fill="none" stroke="#ff5454"/><rect x="871" y="912" width="12" height="57" fill="#00ffff"/><rect x="887.5" y="905.5" width="11" height="63" fill="none" stroke="#ff5454"/><rect x="904.5" y="900.5" width="10" height="68" fill="none" stroke="#ff5454"/><rect x="920" y="904" width="12" height="65" fill="#00ffff"/><rect x="936" y="901" width="12" height="68" fill="#00ffff"/><rect x="953" y="898" width="11" height="71" fill="#00ffff"/><rect x="969.5" y="910.5" width="11" height="58" fill="none" stroke="#ff5454"/><rect x="986.5" y="909.5" width="10" height="59" fill="none" stroke="#ff5454"/><rect x="1002.5" y="879.5" width="11" height="89" fill="none" stroke="#ff5454"/><rect x="1018" y="916" width="12" height="53" fill="#00ffff"/><rect x="1035.5" y="914.5" width="10" height="54" fill="none" stroke="#ff5454"/><rect x="1051.5" y="898.5" width="11" height="70" fill="none" stroke="#ff5454"/><rect x="1067.5" y="914.5" width="11" height="54" fill="none" stroke="#ff5454"/><rect x="1084.5" y="891.5" width="10" height="77" fill="none" stroke="#ff5454"/><rect x="1100.5" y="877.5" width="11" height="91" fill="none" stroke="#ff5454"/><rect x="1116.5" y="886.5" width="11" height="82" fill="none" stroke="#ff5454"/><rect x="1133.5" y="862.5" width="10" height="106" fill="none" stroke="#ff5454"/><rect x="1149" y="886" width="12" height="83" fill="#00ffff"/><rect x="1165.5" y="875.5" width="11" height="93" fill="none" stroke="#ff5454"/><rect x="1182.5" y="858.5" width="10" height="110" fill="none" stroke="#ff5454"/><rect x="1198" y="870" width="12" height="99" fill="#00ffff"/><rect x="1214.5" y="907.5" width="11" height="61" fill="none" stroke="#ff5454"/><rect x="1231" y="908" width="11" height="61" fill="#00ffff"/><rect x="1247" y="918" width="12" height="51" fill="#00ffff"/><rect x="1264" y="923" width="11" height="46" fill="#00ffff"/><rect x="1280.5" y="937.5" width="11" height="31" fill="none" stroke="#ff5454"/><rect x="1296.5" y="941.5" width="11" height="27" fill="none" stroke="#ff5454"/><rect x="1313.5" y="952.5" width="10" height="16" fill="none" stroke="#ff5454"/><rect x="1329" y="950" width="12" height="19" fill="#00ffff"/><rect x="1345.5" y="960.5" width="11" height="8" fill="none" stroke="#ff5454"/><rect x="1362.5" y="956.5" width="10" height="12" fill="none" stroke="#ff5454"/><rect x="1378.5" y="960.5" width="11" height="8" fill="none" stroke="#ff5454"/><rect x="1394" y="961" width="12" height="8" fill="#00ffff"/><rect x="1411" y="961" width="11" height="8" fill="#00ffff"/><rect x="1427.5" y="961.5" width="11" height="7" fill="none" stroke="#ff5454"/><rect x="1443" y="963" width="12" height="6" fill="#00ffff"/><rect x="1460.5" y="963.5" width="10" height="5" fill="none" stroke="#ff5454"/><rect x="1476" y="961" width="12" height="8" fill="#00ffff"/><rect x="1493" y="964" width="11" height="5" fill="#00ffff"/><rect x="1509" y="965" width="12" height="4" fill="#00ffff"/><rect x="1525.5" y="962.5" width="11" height="6" fill="none" stroke="#ff5454"/><rect x="1542" y="963" width="11" height="6" fill="#00ffff"/><rect x="1558" y="965" width="12" height="4" fill="#00ffff"/><rect x="1574.5" y="966.5" width="11" height="2" fill="none" stroke="#ff5454"/><rect x="1591" y="966" width="11" height="3" fill="#00ffff"/><rect x="1607" y="967" width="12" height="2" fill="#00ffff"/><rect x="1623" y="967" width="12" height="2" fill="#ff5454"/><rect x="1640" y="967" width="11" height="1" fill="#ff5454"/><rect x="1656" y="967" width="12" height="1" fill="#ff5454"/><rect x="1672" y="967" width="12" height="1" fill="#ff5454"/><rect x="1689" y="967" width="11" height="1" fill="#00ffff"/><rect x="1705" y="967" width="12" height="1" fill="#00ffff"/><rect x="1721" y="967" width="12" height="1" fill="#00ffff"/><rect x="1738" y="967" width="11" height="1" fill="#00ffff"/><rect x="1754" y="967" width="12" height="1" fill="#00ffff"/><rect x="1771" y="967" width="11" height="1" fill="#00ffff"/><path d="M0.0 834.8 L10.3 835.4 L26.6 835.6 L42.5 833.3 L59.2 830.6 L75.4 829.3 L91.5 827.4 L108.2 827.7 L124.5 828.1 L140.7 826.2 L157.4 825.8 L173.5 826.6 L190.1 830.0 L206.4 831.6 L222.5 833.3 L239.2 837.3 L255.4 835.6 L271.5 832.5 L288.2 830.2 L304.3 827.7 L320.7 825.4 L337.2 826.2 L353.5 825.4 L369.6 827.4 L386.3 826.8 L402.4 826.2 L418.5 825.8 L435.0 822.6 L451.4 823.5 L468.1 819.1 L484.4 815.3 L500.6 817.4 L517.1 808.2 L533.4 812.4 L549.5 811.3 L566.3 811.3 L582.4 813.4 L598.5 813.6 L615.3 816.1 L631.4 817.4 L647.5 817.4 L664.2 818.4 L680.4 816.4 L696.5 818.4 L713.4 821.4 L729.3 822.6 L745.5 823.3 L762.5 824.5 L778.6 823.5 L795.4 822.6 L811.5 819.1 L827.4 823.0 L844.4 818.7 L860.5 821.2 L876.6 823.3 L893.3 821.4 L909.5 822.4 L925.6 823.5 L942.3 824.5 L958.4 824.5 L974.5 824.5 L991.3 824.5 L1007.4 823.5 L1023.5 824.5 L1040.5 826.2 L1056.4 825.4 L1072.5 826.2 L1089.5 825.4 L1105.4 827.4 L1122.5 828.5 L1138.4 830.4 L1154.4 834.6 L1171.4 834.6 L1187.5 835.8 L1203.6 839.0 L1220.4 842.9 L1236.5 846.7 L1252.4 852.1 L1269.4 853.4 L1285.5 856.7 L1301.4 859.3 L1318.3 863.0 L1334.5 866.2 L1350.6 867.8 L1367.5 870.1 L1383.4 872.0 L1400.4 873.1 L1416.3 874.1 L1432.4 875.0 L1449.4 876.0 L1465.5 876.6 L1481.4 878.1 L1498.3 879.1 L1514.4 879.1 L1530.6 880.2 L1547.5 882.3 L1563.4 883.3 L1579.5 884.4 L1596.3 885.6 L1612.4 886.5 L1628.5 886.9 L1645.3 887.5 L1661.4 887.5 L1677.9 887.5" stroke="#ffff00" stroke-width="1" fill="none" shape-rendering="crispEdges" stroke-linejoin="round"/><path d="M1677.9 887.5 L1694.5 887.7 L1710.6 887.9 L1727.5 887.9 L1743.4 887.9 L1759.8 887.9 L1776.7 887.9" stroke="#ffff00" stroke-width="2" fill="none" shape-rendering="crispEdges" stroke-linejoin="round"/><rect x="1869" y="84" width="2" height="1" fill="#c80000"/><rect x="1869" y="169" width="2" height="1" fill="#c80000"/><rect x="1869" y="253" width="2" height="1" fill="#c80000"/><rect x="1869" y="338" width="2" height="1" fill="#c80000"/><rect x="1869" y="422" width="2" height="1" fill="#c80000"/><rect x="1869" y="507" width="2" height="1" fill="#c80000"/><rect x="1869" y="591" width="2" height="1" fill="#c80000"/><rect x="1869" y="642" width="2" height="1" fill="#c80000"/><rect x="1869" y="688" width="2" height="1" fill="#c80000"/><rect x="1869" y="734" width="2" height="1" fill="#c80000"/><rect x="1869" y="831" width="2" height="1" fill="#c80000"/><rect x="1869" y="877" width="2" height="1" fill="#c80000"/><rect x="1869" y="922" width="2" height="1" fill="#c80000"/><rect x="75" y="971" width="1" height="2" fill="#c80000"/><rect x="206" y="971" width="1" height="2" fill="#c80000"/><rect x="288" y="971" width="1" height="2" fill="#c80000"/><rect x="418" y="971" width="1" height="2" fill="#c80000"/><rect x="566" y="971" width="1" height="2" fill="#c80000"/><rect x="696" y="971" width="1" height="2" fill="#c80000"/><rect x="778" y="971" width="1" height="2" fill="#c80000"/><rect x="909" y="971" width="1" height="2" fill="#c80000"/><rect x="1056" y="971" width="1" height="2" fill="#c80000"/><rect x="1187" y="971" width="1" height="2" fill="#c80000"/><rect x="1269" y="971" width="1" height="2" fill="#c80000"/><rect x="1400" y="971" width="1" height="2" fill="#c80000"/><rect x="1547" y="971" width="1" height="2" fill="#c80000"/><rect x="1678" y="971" width="1" height="2" fill="#c80000"/><rect x="1759" y="971" width="1" height="2" fill="#c80000"/><path d="M10.5 158.5H20M14.0 155.5L11.0 158.5L14.0 161.5" stroke="#ff5454" stroke-width="1" fill="none" shape-rendering="auto"/><path d="M10.5 413.5H20M14.0 410.5L11.0 413.5L14.0 416.5" stroke="#00ffff" stroke-width="1" fill="none" shape-rendering="auto"/><path d="M344.5 166.5H353.5M350.0 163.5L353.0 166.5L350.0 169.5" stroke="#ff5454" stroke-width="1" fill="none" shape-rendering="auto"/><path d="M1178.5 90.5H1187.5M1184.0 87.5L1187.0 90.5L1184.0 93.5" stroke="#ff5454" stroke-width="1" fill="none" shape-rendering="auto"/><path d="M573 592.5H582M578.5 589.5L581.5 592.5L578.5 595.5" stroke="#00ffff" stroke-width="1" fill="none" shape-rendering="auto"/><path d="M1276.5 403.5H1285.5M1282.0 400.5L1285.0 403.5L1282.0 406.5" stroke="#00ffff" stroke-width="1" fill="none" shape-rendering="auto"/><path d="M1668.5 148.5H1678M1674.5 145.5L1677.5 148.5L1674.5 151.5" stroke="#ff5454" stroke-width="1" fill="none" shape-rendering="auto"/></svg><div class="t" style="left:22.6px;top:146px;font-size:14px;line-height:16px;color:#ff5454;">15350</div><div class="t" style="left:22.6px;top:411px;font-size:14px;line-height:16px;color:#00ffff;">14140</div><div class="t" style="left:299.3px;top:155px;font-size:14px;line-height:16px;color:#ff5454;">15310</div><div class="t" style="left:1133px;top:80px;font-size:14px;line-height:16px;color:#ff5454;">15665</div><div class="t" style="left:528px;top:589px;font-size:14px;line-height:16px;color:#00ffff;">13295</div><div class="t" style="left:1231px;top:400px;font-size:14px;line-height:16px;color:#00ffff;">14190</div><div class="t" style="left:1623.5px;top:137px;font-size:14px;line-height:16px;color:#ff5454;">15395</div><div class="t" style="left:1872px;top:77px;font-size:11.5px;line-height:16px;color:#f0f0f0;transform:scaleX(.925);transform-origin:0 50%;">15700</div><div class="t" style="left:1872px;top:162px;font-size:11.5px;line-height:16px;color:#f0f0f0;transform:scaleX(.925);transform-origin:0 50%;">15300</div><div class="t" style="left:1872px;top:246px;font-size:11.5px;line-height:16px;color:#f0f0f0;transform:scaleX(.925);transform-origin:0 50%;">14900</div><div class="t" style="left:1872px;top:331px;font-size:11.5px;line-height:16px;color:#f0f0f0;transform:scaleX(.925);transform-origin:0 50%;">14500</div><div class="t" style="left:1872px;top:415px;font-size:11.5px;line-height:16px;color:#f0f0f0;transform:scaleX(.925);transform-origin:0 50%;">14100</div><div class="t" style="left:1872px;top:500px;font-size:11.5px;line-height:16px;color:#f0f0f0;transform:scaleX(.925);transform-origin:0 50%;">13700</div><div class="t" style="left:1872px;top:584px;font-size:11.5px;line-height:16px;color:#f0f0f0;transform:scaleX(.925);transform-origin:0 50%;">13300</div><div class="t" style="left:1872px;top:635px;font-size:11.5px;line-height:16px;color:#f0f0f0;transform:scaleX(.925);transform-origin:0 50%;">200.000</div><div class="t" style="left:1872px;top:681px;font-size:11.5px;line-height:16px;color:#f0f0f0;transform:scaleX(.925);transform-origin:0 50%;">-100.000</div><div class="t" style="left:1872px;top:727px;font-size:11.5px;line-height:16px;color:#f0f0f0;transform:scaleX(.925);transform-origin:0 50%;">-400.000</div><div class="t" style="left:1872px;top:824px;font-size:11.5px;line-height:16px;color:#f0f0f0;transform:scaleX(.925);transform-origin:0 50%;">600000</div><div class="t" style="left:1872px;top:870px;font-size:11.5px;line-height:16px;color:#f0f0f0;transform:scaleX(.925);transform-origin:0 50%;">400000</div><div class="t" style="left:1872px;top:915px;font-size:11.5px;line-height:16px;color:#f0f0f0;transform:scaleX(.925);transform-origin:0 50%;">200000</div><div style="left:1871px;top:237px;width:40px;height:16px;background:#444"></div><div class="t" style="left:1872px;top:237px;font-size:11.5px;line-height:16px;color:#f4f4f4;transform:scaleX(.925);transform-origin:0 50%;">14940</div><div style="left:1871px;top:673px;width:40px;height:15px;background:#444"></div><div class="t" style="left:1872px;top:672px;font-size:11.5px;line-height:16px;color:#f4f4f4;transform:scaleX(.925);transform-origin:0 50%;">-49.386</div><div style="left:1871px;top:960px;width:40px;height:10px;background:#484848"></div><div class="t" style="left:1872px;top:959px;height:11px;overflow:hidden;font-size:11.5px;line-height:16px;color:#f4f4f4;transform:scaleX(.925);transform-origin:0 50%;">1</div><div style="left:1028px;top:972px;width:877px;height:12px;background:#424242;border-radius:6px"></div><div style="left:1909px;top:974px;width:2px;height:8px;background:#e4e4e4"></div><svg class="a" style="left:1px;top:973px" width="8" height="10"><path d="M6 .5V9.500L.8 5Z" fill="#c8c8c8"/></svg><div class="t" style="left:25.5px;top:972px;width:100px;text-align:center;font-size:11.5px;line-height:16px;color:#a0a0a0">2025-04-16</div><div class="t" style="left:156.5px;top:972px;width:100px;text-align:center;font-size:11.5px;line-height:16px;color:#dcdcdc">04-28</div><div class="t" style="left:238.5px;top:972px;width:100px;text-align:center;font-size:11.5px;line-height:16px;color:#dcdcdc">05</div><div class="t" style="left:368.5px;top:972px;width:100px;text-align:center;font-size:11.5px;line-height:16px;color:#dcdcdc">05-20</div><div class="t" style="left:516.5px;top:972px;width:100px;text-align:center;font-size:11.5px;line-height:16px;color:#dcdcdc">06</div><div class="t" style="left:646.5px;top:972px;width:100px;text-align:center;font-size:11.5px;line-height:16px;color:#dcdcdc">06-13</div><div class="t" style="left:728.5px;top:972px;width:100px;text-align:center;font-size:11.5px;line-height:16px;color:#dcdcdc">06-20</div><div class="t" style="left:859.5px;top:972px;width:100px;text-align:center;font-size:11.5px;line-height:16px;color:#dcdcdc">07</div><div class="t" style="left:1006.5px;top:972px;width:100px;text-align:center;font-size:11.5px;line-height:16px;color:#dcdcdc">07-15</div><div class="t" style="left:1137.5px;top:972px;width:100px;text-align:center;font-size:11.5px;line-height:16px;color:#dcdcdc">07-25</div><div class="t" style="left:1219.5px;top:972px;width:100px;text-align:center;font-size:11.5px;line-height:16px;color:#dcdcdc">08</div><div class="t" style="left:1350.5px;top:972px;width:100px;text-align:center;font-size:11.5px;line-height:16px;color:#dcdcdc">08-13</div><div class="t" style="left:1497.5px;top:972px;width:100px;text-align:center;font-size:11.5px;line-height:16px;color:#dcdcdc">08-26</div><div class="t" style="left:1628.5px;top:972px;width:100px;text-align:center;font-size:11.5px;line-height:16px;color:#dcdcdc">09</div><div class="t" style="left:1709.5px;top:972px;width:100px;text-align:center;font-size:11.5px;line-height:16px;color:#dcdcdc">09-12</div><div style="left:808px;top:986px;width:300.5px;height:5px;background:linear-gradient(90deg,#2a2a2a,#4c4c4c 20%,#565656 50%,#4c4c4c 80%,#2a2a2a)"></div><svg class="a" style="left:953px;top:987px" width="10" height="4"><path d="M0 4L5 0L10 4Z" fill="#fff"/></svg><div style="left:1433px;top:988px;width:250px;height:8px;background:#fff;border-radius:4px"></div>
</body></html>
